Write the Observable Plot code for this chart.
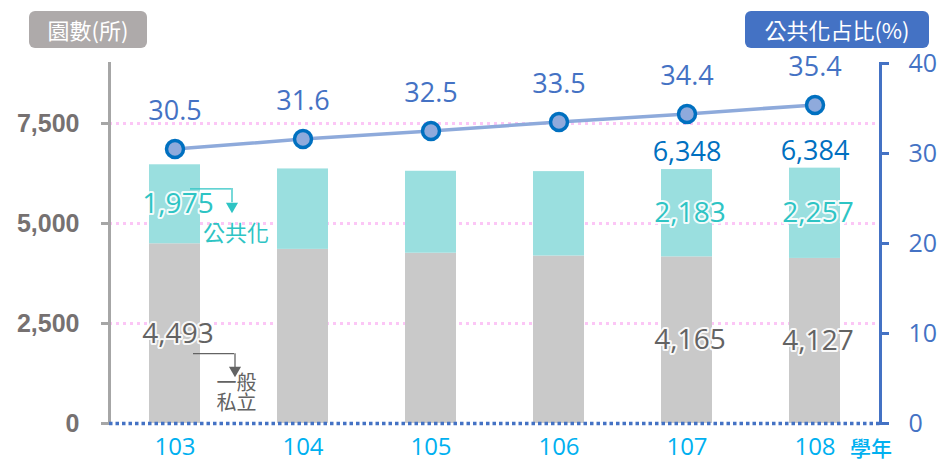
<!DOCTYPE html>
<html>
<head>
<meta charset="utf-8">
<script src="https://cdn.jsdelivr.net/npm/d3@7"></script>
<script src="https://cdn.jsdelivr.net/npm/@observablehq/plot@0.6"></script>
<style>
  html, body { margin: 0; padding: 0; background: #fff; }
  #wrap { position: relative; width: 942px; height: 463px; overflow: hidden; }
  .badge { position: absolute; top: 11px; height: 37px; border-radius: 6px; color: #fff;
    font-family: "Noto Sans CJK TC", "Noto Sans", sans-serif; font-size: 22px; line-height: 37px;
    text-align: center; }
  #b1 { left: 29px; width: 118px; background: #aeaaaa; }
  #b2 { left: 745px; width: 184px; background: #4472c4; }
</style>
</head>
<body>
<div id="wrap">
  <div id="chart"></div>
  <div class="badge" id="b1">園數(所)</div>
  <div class="badge" id="b2">公共化占比(%)</div>
</div>
<script>
const years = ["103", "104", "105", "106", "107", "108"];
const privateCounts = [4493, 4353, 4257, 4187, 4165, 4127];
const publicCounts = [1975, 2011, 2049, 2110, 2183, 2257];
const publicShare = [30.5, 31.6, 32.5, 33.5, 34.4, 35.4];
const leftTicks = [0, 2500, 5000, 7500];
const gridTicks = [2500, 5000, 7500];
const rightTicks = [0, 10, 20, 30, 40];
const segmentLabelYears = ["103", "107", "108"];
const totalLabelYears = ["107", "108"];
const typePrivate = "一般私立";
const typePublic = "公共化";
const privateLabelLines = ["一般", "私立"];
const annotYear = "103";

const countMax = 9000, shareMax = 40, k = countMax / shareMax;

const rows = [];
years.forEach((y, i) => {
  rows.push({year: y, type: typePrivate, value: privateCounts[i]});
  rows.push({year: y, type: typePublic, value: publicCounts[i]});
});
const shares = years.map((y, i) => ({year: y, share: publicShare[i]}));

const fmt = d3.format(",");
const numFont = "'Open Sans', 'Noto Sans CJK TC', sans-serif";
const cjkFont = "'Noto Sans CJK TC', 'Noto Sans', sans-serif";
const teal = "#9adfdf", gray = "#c9c9c9";
const tealText = "#2ec4c4", grayText = "#636363";

const isAnnot = type => d => d.year === annotYear && d.type === type;

const chart = Plot.plot({
  width: 942, height: 463,
  marginTop: 63, marginBottom: 40, marginLeft: 109, marginRight: 62,
  style: {fontFamily: numFont, background: "transparent"},
  x: {domain: years, paddingInner: 0.6, paddingOuter: 0.3, axis: null},
  y: {domain: [0, countMax], axis: null},
  color: {domain: [typePrivate, typePublic], range: [gray, teal]},
  marks: [
    Plot.ruleY(gridTicks, {stroke: "#fcc6f6", strokeWidth: 3, strokeDasharray: "3,4"}),
    Plot.barY(rows, Plot.stackY({x: "year", y: "value", fill: "type"})),
    Plot.frame({anchor: "left", stroke: "#a6a6a6", strokeWidth: 3}),
    Plot.frame({anchor: "right", stroke: "#4472c4", strokeWidth: 3}),
    Plot.ruleY([0], {stroke: "#4472c4", strokeWidth: 3.5, strokeDasharray: "3.5,3"}),
    Plot.axisY({ticks: leftTicks, anchor: "left", tickSize: 8, tickPadding: 22, tickFormat: fmt,
      stroke: "#a6a6a6", strokeWidth: 3, color: "#767171", fontSize: 25, fontWeight: "bold",
      fontFamily: "'Liberation Sans', Arial, sans-serif", label: null}),
    Plot.axisY({ticks: rightTicks.map(t => t * k), anchor: "right", tickSize: 8, tickPadding: 20,
      tickFormat: d => String(d / k), stroke: "#4472c4", strokeWidth: 3, color: "#4472c4",
      fontSize: 25, label: null}),
    Plot.axisX({anchor: "bottom", tickSize: 0, tickPadding: 14, color: "#00b0f0", fontSize: 24, label: null}),
    Plot.text(["學年"], {frameAnchor: "bottom-right", textAnchor: "middle", lineAnchor: "middle",
      dx: -9.5, dy: 26, fill: "#00b0f0", fontSize: 21, fontWeight: 500, fontFamily: cjkFont}),
    // share line
    Plot.line(shares, {x: "year", y: d => d.share * k, stroke: "#8eaadb", strokeWidth: 3.5}),
    Plot.dot(shares, {x: "year", y: d => d.share * k, r: 8.5, fill: "#8faadc", stroke: "#0070c0", strokeWidth: 3.5}),
    Plot.text(shares, {x: "year", y: d => d.share * k, text: d => d.share.toFixed(1), dy: -38,
      fill: "#4472c4", fontSize: 27}),
    // segment labels
    Plot.text(rows, Plot.filter(d => segmentLabelYears.includes(d.year) && d.type === typePublic,
      Plot.stackY({x: "year", y: "value", text: d => fmt(d.value), dx: 3, fill: tealText,
        stroke: "white", strokeWidth: 4, strokeOpacity: 0.9, fontSize: 28}))),
    Plot.text(rows, Plot.filter(d => segmentLabelYears.includes(d.year) && d.type === typePrivate,
      Plot.stackY({x: "year", y: "value", text: d => fmt(d.value), dx: 3, fill: grayText,
        stroke: "white", strokeWidth: 4, strokeOpacity: 0.9, fontSize: 28}))),
    // totals
    Plot.text(rows, Plot.groupX({y: "sum", text: "sum"}, {x: "year", y: "value", text: "value",
      filter: d => totalLabelYears.includes(d.year), dy: -17, fill: "#0070c0", fontSize: 27})),
    // annotation: 公共化
    Plot.tickY(rows, Plot.filter(isAnnot(typePublic),
      Plot.stackY({x: "year", y: "value", dx: 31, dy: -15.5, insetLeft: 10, stroke: tealText, strokeWidth: 1.3}))),
    Plot.ruleX(rows, Plot.filter(isAnnot(typePublic),
      Plot.stackY({x: "year", y: "value", dx: 57, insetTop: -41, insetBottom: -23.7, stroke: tealText, strokeWidth: 1.3}))),
    Plot.dot(rows, Plot.filter(isAnnot(typePublic),
      Plot.stackY({x: "year", y: "value", dx: 57, dy: 2, symbol: "triangle", rotate: 180, r: 4.5, fill: tealText, stroke: null}))),
    Plot.text(rows, Plot.filter(isAnnot(typePublic),
      Plot.stackY({x: "year", y: "value", text: () => typePublic, dx: 61, dy: 30, fill: tealText,
        fontSize: 22, fontFamily: cjkFont}))),
    // annotation: 一般私立
    Plot.tickY(rows, Plot.filter(isAnnot(typePrivate),
      Plot.stackY({x: "year", y: "value", dx: 34, dy: 20, insetLeft: 10, stroke: grayText, strokeWidth: 1.3}))),
    Plot.ruleX(rows, Plot.filter(isAnnot(typePrivate),
      Plot.stackY({x: "year", y: "value", dx: 60, insetTop: -56, insetBottom: -110, stroke: grayText, strokeWidth: 1.3}))),
    Plot.dot(rows, Plot.filter(isAnnot(typePrivate),
      Plot.stackY({x: "year", y: "value", dx: 60, dy: 36.5, symbol: "triangle", rotate: 180, r: 4.5, fill: grayText, stroke: null}))),
    Plot.text(rows, Plot.filter(isAnnot(typePrivate),
      Plot.stackY({x: "year", y: "value", text: () => privateLabelLines[0], dx: 61.5, dy: 50,
        fill: grayText, fontSize: 20, fontFamily: cjkFont}))),
    Plot.text(rows, Plot.filter(isAnnot(typePrivate),
      Plot.stackY({x: "year", y: "value", text: () => privateLabelLines[1], dx: 61.5, dy: 70,
        fill: grayText, fontSize: 20, fontFamily: cjkFont})))
  ]
});
document.getElementById("chart").appendChild(chart);
</script>
</body>
</html>
